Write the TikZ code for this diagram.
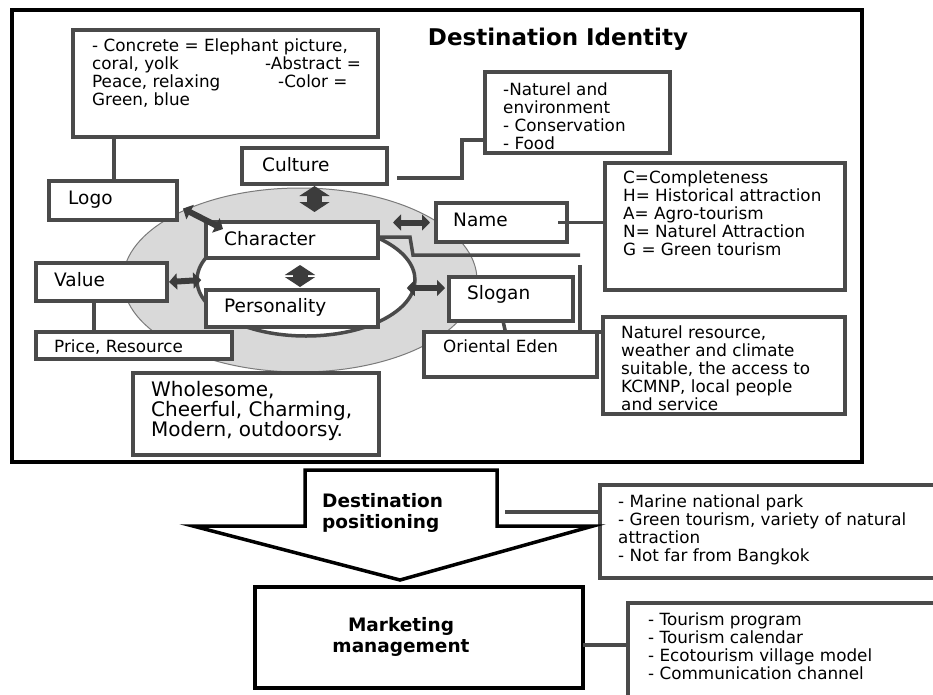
\documentclass[tikz,border=0pt]{standalone}
\usepackage{fontspec}
\setmainfont{DejaVu Sans}
\usetikzlibrary{arrows.meta,shapes.geometric}

\definecolor{boxgray}{HTML}{4A4A4A}
\definecolor{arrowgray}{HTML}{3C3C3C}
\definecolor{ringfill}{HTML}{D9D9D9}
\definecolor{ringline}{HTML}{7A7A7A}

\newcommand\lblfont{\fontsize{18.5}{20}\selectfont}
\newcommand\descfont{\fontsize{16.8}{18}\selectfont}
\newcommand\traitfont{\fontsize{20}{20}\selectfont}
\newcommand\headfont{\bfseries\fontsize{18.5}{21.5}\selectfont}

\begin{document}
\begin{tikzpicture}[x=1pt,y=-1pt,
  box/.style={draw=boxgray, line width=3.5pt, fill=white, inner sep=0pt, outer sep=0pt, anchor=north west},
  blackbox/.style={draw=black, line width=4pt, fill=white, inner sep=0pt, outer sep=0pt, anchor=north west},
  lbl/.style={font=\lblfont, anchor=base west, inner sep=0pt},
  desc/.style={font=\descfont, align=left, anchor=north west, inner sep=0pt},
  conn/.style={draw=boxgray, line width=3.5pt},
  fatarrow/.style={draw=arrowgray, line width=15pt,
    {Triangle[length=10pt 0 0,width=30pt 0 0]}-{Triangle[length=10pt 0 0,width=30pt 0 0]}},
  thinarrow/.style={draw=arrowgray, line width=6pt,
    {Triangle[length=8pt 0 0,width=16pt 0 0]}-{Triangle[length=8pt 0 0,width=16pt 0 0]}}
]
\useasboundingbox (0,0) rectangle (933,694);
\clip (0,0) rectangle (933,694);
\fill[white] (0,0) rectangle (933,694);

% frame of the identity block
\draw[black, line width=4.5pt] (12,10) rectangle (862,462);
\node[font=\bfseries\fontsize{23}{25}\selectfont, anchor=base, inner sep=0pt] (title) at (558,45) {Destination Identity};

% rings around the core
\node[ellipse, draw=ringline, line width=1pt, fill=ringfill, minimum width=354pt, minimum height=184pt, inner sep=0pt] (ring) at (300,280) {};
\node[ellipse, draw=boxgray, line width=3.5pt, fill=white, minimum width=218pt, minimum height=112pt, inner sep=0pt] (inner) at (306,280) {};

% boxes
\node[box, minimum width=305pt, minimum height=107pt] (logoD) at (73,30) {};
\node[box, minimum width=128pt, minimum height=39pt] (logo) at (49,181) {};
\node[box, minimum width=145pt, minimum height=36pt] (culture) at (242,148) {};
\node[box, minimum width=185pt, minimum height=81pt] (natD) at (485,72) {};
\node[box, minimum width=131pt, minimum height=39pt] (name) at (436,203) {};
\node[box, minimum width=240pt, minimum height=127pt] (nameD) at (605,163) {};
\node[box, minimum width=172pt, minimum height=36pt] (character) at (206,222) {};
\node[box, minimum width=172pt, minimum height=37pt] (personality) at (206,290) {};
\node[box, minimum width=131pt, minimum height=38pt] (value) at (36,263) {};
\node[box, minimum width=196pt, minimum height=27pt] (price) at (36,332) {};
\node[box, minimum width=246pt, minimum height=82pt] (traits) at (133,373) {};
\node[box, minimum width=124pt, minimum height=44pt] (slogan) at (449,277) {};
\node[box, minimum width=173pt, minimum height=45pt] (eden) at (424,332) {};
\node[box, minimum width=242pt, minimum height=97pt] (sloganD) at (603,317) {};
\node[box, minimum width=360pt, minimum height=93pt] (posD) at (600,485) {};
\node[blackbox, minimum width=328pt, minimum height=101pt] (market) at (255,587) {};
\node[box, minimum width=340pt, minimum height=120pt] (marketD) at (628,603) {};

% connectors
\draw[conn] ([xshift=41pt]logoD.south west) -- ([xshift=41pt]logoD.south west |- logo.north);
\draw[conn] ([shift={(10pt,-12pt)}]culture.east) -| ([shift={(-23pt,-27.5pt)}]natD.west) -- ([yshift=-27.5pt]natD.west);
\draw[conn] ([xshift=-9pt]name.east) -- (nameD.west |- name.east);
\draw[conn] ([yshift=3pt]character.east) -- ++(32,0) -- ++(3,18) -- ++(167,0);
\coordinate (brk) at (580,265);
\draw[conn] (brk) |- ([yshift=33.5pt]sloganD.west);
\draw[conn] ([xshift=-8pt]slogan.south) -- ([xshift=-5pt]eden.north);
\draw[conn] ([xshift=-7.5pt]value.south) -- ([xshift=-7.5pt]value.south |- price.north);

% double arrows around the core
\coordinate (cc) at (culture.south |- character.north);
\draw[fatarrow] ([yshift=-2pt]culture.south) -- ([yshift=10pt]cc);
\draw[fatarrow] ([shift={(8pt,-7pt)}]character.south) -- ([shift={(8pt,3pt)}]personality.north);
\draw[thinarrow] ([shift={(6pt,-8pt)}]logo.east) -- ([shift={(17pt,-7pt)}]character.north west);
\draw[thinarrow] ([xshift=2pt]value.east) -- ([xshift=6pt]inner.west);
\draw[thinarrow] ([xshift=-43pt]name.west) -- ([xshift=-6pt]name.west);
\draw[thinarrow] ([shift={(-10pt,-8pt)}]inner.east) -- ([shift={(-4pt,11pt)}]slogan.west);

% texts
\node[desc] (logoDt) at (92,39) {- Concrete = Elephant picture,\\
  \makebox[173pt][l]{coral, yolk}-Abstract =\\
  \makebox[186pt][l]{Peace, relaxing}-Color =\\
  Green, blue};
\node[lbl] (logot) at (68,204) {Logo};
\node[lbl] (culturet) at (262,171) {Culture};
\node[desc] (natDt) at (503,83) {-Naturel and\\ environment\\ - Conservation\\ - Food};
\node[lbl] (namet) at (453,226) {Name};
\node[desc] (nameDt) at (623,171) {C=Completeness\\ H= Historical attraction\\ A= Agro-tourism\\ N= Naturel Attraction\\ G = Green tourism};
\node[lbl] (charactert) at (224,245) {Character};
\node[lbl] (personalityt) at (224,312) {Personality};
\node[lbl] (valuet) at (54,286) {Value};
\node[font=\descfont, anchor=base west, inner sep=0pt] (pricet) at (54,352) {Price, Resource};
\node[font=\traitfont, align=left, anchor=north west, inner sep=0pt] (traitst) at (151,381) {Wholesome,\\ Cheerful, Charming,\\ Modern, outdoorsy.};
\node[lbl] (slogant) at (467,299) {Slogan};
\node[font=\descfont, anchor=base west, inner sep=0pt] (edent) at (443,352) {Oriental Eden};
\node[desc] (sloganDt) at (621,326) {Naturel resource,\\ weather and climate\\ suitable, the access to\\ KCMNP, local people\\ and service};

% positioning arrow and the steps below it
\draw[black, line width=3.5pt, fill=white, line join=miter]
  (305,470) -- (497,470) -- (497,526) -- (593,526) -- (400,580) -- (193,526) -- (305,526) -- cycle;
\node[font=\headfont, align=left, anchor=north west, inner sep=0pt] (post) at (322,493) {Destination\\ positioning};
\coordinate (posR) at (505,512);
\draw[conn] (posR) -- (posD.west |- posR);
\node[desc] (posDt) at (618,495) {- Marine national park\\ - Green tourism, variety of natural\\ attraction\\ - Not far from Bangkok};

\node[font=\headfont, align=center, inner sep=0pt, anchor=north] (markett) at (401,617) {Marketing\\ management};
\draw[conn] ([yshift=-7.5pt]market.east) -- ([yshift=-7.5pt]market.east -| marketD.west);
\node[desc] (marketDt) at (648,613) {- Tourism program\\ - Tourism calendar\\ - Ecotourism village model\\ - Communication channel};
\end{tikzpicture}
\end{document}
